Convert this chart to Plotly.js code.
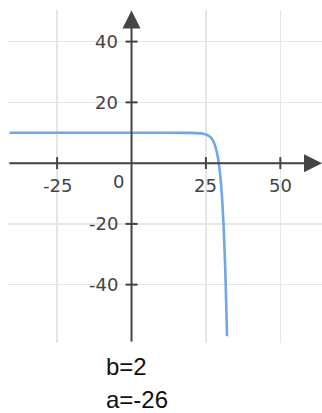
<!DOCTYPE html>
<html>
<head>
<meta charset="utf-8">
<script src="https://cdn.plot.ly/plotly-3.0.1.min.js"></script>
<style>
  html, body { margin: 0; padding: 0; background: #ffffff; }
  #chart { width: 322px; height: 413px; }
</style>
</head>
<body>
<div id="chart"></div>
<script>
// curve points
let curve_x = [-41, -20, 0, 20, 24, 26, 27, 28, 29, 29.5, 30, 30.5, 31, 31.5, 32.1];
let curve_y = [10, 10, 10, 9.95, 9.7, 9, 8, 6, 2, -1.5, -6, -12.6, -22, -35, -57];

// ticks
let x_ticks = [-25, 25, 50];
let x_tick_labels = ['-25', '25', '50'];
let y_ticks = [-40, -20, 20, 40];
let y_tick_labels = ['-40', '-20', '20', '40'];

// parameter texts under the chart
let param_labels = ['b=2', 'a=-26'];

let x_range = [-41.5, 64];
let y_range = [-59.2, 50.4];

let axis_color = '#444444';
let tick_font = {family: 'DejaVu Sans', size: 18, color: '#444444'};

let trace1 = {
    type: 'scatter',
    mode: 'lines',
    x: curve_x,
    y: curve_y,
    line: {color: '#6fa8e8', width: 2.6, shape: 'spline', smoothing: 0.6},
    hoverinfo: 'skip'
};

let shapes = [];
let annotations = [];

// axis lines with arrow heads
annotations.push({
    x: x_range[1], y: 0, xref: 'x', yref: 'y',
    ax: x_range[0], ay: 0, axref: 'x', ayref: 'y',
    text: '', showarrow: true, arrowhead: 2, arrowsize: 1.8,
    arrowwidth: 2, arrowcolor: axis_color
});
annotations.push({
    x: 0, y: 50.2, xref: 'x', yref: 'y',
    ax: 0, ay: y_range[0], axref: 'x', ayref: 'y',
    text: '', showarrow: true, arrowhead: 2, arrowsize: 1.8,
    arrowwidth: 2, arrowcolor: axis_color
});

// tick marks crossing the axes
for (let i = 0; i < x_ticks.length; i++)
{
    shapes.push({
        type: 'line', xref: 'x', yref: 'y', ysizemode: 'pixel', yanchor: 0,
        x0: x_ticks[i], x1: x_ticks[i], y0: -6, y1: 6,
        line: {color: axis_color, width: 2}
    });
    annotations.push({
        x: x_ticks[i], y: 0, xref: 'x', yref: 'y',
        text: x_tick_labels[i], showarrow: false, yshift: -22,
        font: tick_font
    });
}
for (let i = 0; i < y_ticks.length; i++)
{
    shapes.push({
        type: 'line', xref: 'x', yref: 'y', xsizemode: 'pixel', xanchor: 0,
        x0: -6, x1: 6, y0: y_ticks[i], y1: y_ticks[i],
        line: {color: axis_color, width: 2}
    });
    annotations.push({
        x: 0, y: y_ticks[i], xref: 'x', yref: 'y',
        text: y_tick_labels[i], showarrow: false, xanchor: 'right', xshift: -12,
        font: tick_font
    });
}

// origin label
annotations.push({
    x: 0, y: 0, xref: 'x', yref: 'y',
    text: '0', showarrow: false, xanchor: 'right', xshift: -6, yshift: -18,
    font: tick_font
});

// parameter lines
for (let i = 0; i < param_labels.length; i++)
{
    annotations.push({
        x: 0.31, y: -0.072 - i * 0.099, xref: 'paper', yref: 'paper',
        text: param_labels[i], showarrow: false, xanchor: 'left', yanchor: 'middle',
        borderpad: 0,
        font: {family: 'Liberation Sans', size: 24, color: '#111111'}
    });
}

let layout = {
    width: 322,
    height: 413,
    margin: {l: 8, r: 0, t: 10, b: 70, pad: 0},
    paper_bgcolor: '#ffffff',
    plot_bgcolor: '#ffffff',
    showlegend: false,
    xaxis: {
        range: x_range, tickvals: [-25, 0, 25, 50], showticklabels: false,
        showgrid: true, gridcolor: '#e6e6e6', gridwidth: 1.5,
        zeroline: false, showline: false, ticks: '', fixedrange: true
    },
    yaxis: {
        range: y_range, tickvals: [-40, -20, 0, 20, 40], showticklabels: false,
        showgrid: true, gridcolor: '#e6e6e6', gridwidth: 1.5,
        zeroline: false, showline: false, ticks: '', fixedrange: true
    },
    shapes: shapes,
    annotations: annotations
};

Plotly.newPlot('chart', [trace1], layout, {displayModeBar: false, staticPlot: true});
</script>
</body>
</html>
